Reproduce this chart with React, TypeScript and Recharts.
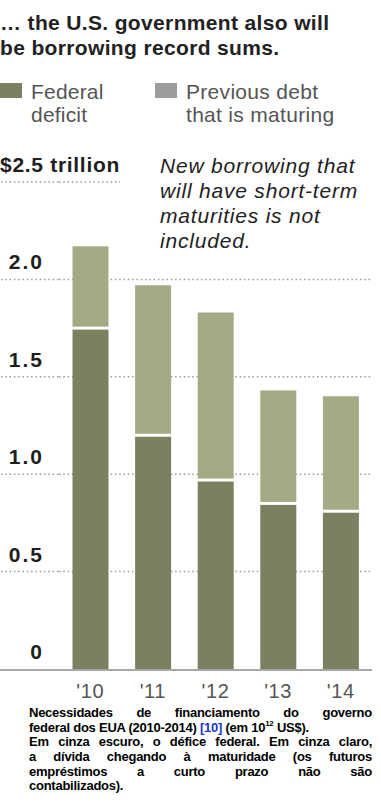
import React from 'react';
import { BarChart, Bar, XAxis, YAxis, CartesianGrid } from 'recharts';

const years = ["'10", "'11", "'12", "'13", "'14"];
const federalDeficit = [1.75, 1.2, 0.97, 0.85, 0.81];
const maturingDebt = [0.42, 0.77, 0.86, 0.58, 0.59];
const yTicks = [0, 0.5, 1, 1.5, 2, 2.5];
const yTickLabels = ['0', '0.5', '1.0', '1.5', '2.0', '$2.5 trillion'];

const data = years.map((year, i) => ({
  year,
  deficit: federalDeficit[i],
  maturing: maturingDebt[i],
}));

const DARK = '#7b8160';
const LIGHT = '#a3ab84';
const GRID = '#9a9a9a';
const FONT = '"Liberation Sans", Arial, Helvetica, sans-serif';
const GAP = 1.5;

const W = 381;
const H = 805;
const PLOT_TOP = 182;
const PLOT_RIGHT = 372;
const Y_AXIS_W = 59;

const YTick = (props: any) => {
  const { y, payload } = props;
  const idx = yTicks.indexOf(payload.value);
  const label = yTickLabels[idx] ?? String(payload.value);
  const isTop = payload.value === 2.5;
  return (
    <g>
      {payload.value === 0 ? (
        <line x1={0} x2={PLOT_RIGHT} y1={y + 1} y2={y + 1} stroke="#8a8a8a" strokeWidth={1.5} />
      ) : (
        <line
          x1={1}
          x2={Y_AXIS_W}
          y1={y}
          y2={y}
          stroke={GRID}
          strokeWidth={1.5}
          strokeDasharray="1.5 2.8"
        />
      )}
      <text
        x={isTop ? 0 : 44}
        y={y - 10}
        textAnchor={isTop ? 'start' : 'end'}
        fontFamily={FONT}
        fontWeight="bold"
        fontSize={21}
        letterSpacing={isTop ? 0.7 : 2}
        fill="#1e1e1e"
      >
        {label}
      </text>
    </g>
  );
};

const XTick = (props: any) => {
  const { x, y, payload } = props;
  return (
    <text x={x} y={y + 29} textAnchor="middle" fontFamily={FONT} fontSize={20} letterSpacing={0.6} fill="#555">
      {payload.value}
    </text>
  );
};

const gridLine = (props: any) => {
  const { x1, x2, y1, y2, key } = props;
  if (y1 > PLOT_TOP + 480) return <g key={key} />;
  const end = y1 < PLOT_TOP + 5 ? 120 : x2;
  return (
    <line
      key={key}
      x1={x1}
      x2={end}
      y1={y1}
      y2={y2}
      stroke={GRID}
      strokeWidth={1.5}
      strokeDasharray="1.5 2.8"
    />
  );
};

const DarkShape = (props: any) => {
  const { x, y, width, height } = props;
  return <rect x={x} y={y + GAP} width={width} height={Math.max(height - GAP, 0)} fill={DARK} />;
};

const LightShape = (props: any) => {
  const { x, y, width, height } = props;
  return <rect x={x} y={y} width={width} height={Math.max(height - GAP, 0)} fill={LIGHT} />;
};

const abs = (style: React.CSSProperties): React.CSSProperties => ({
  position: 'absolute',
  fontFamily: FONT,
  margin: 0,
  whiteSpace: 'nowrap',
  ...style,
});

const captionLine: React.CSSProperties = {
  height: 14.7,
  lineHeight: '14.7px',
  textAlign: 'justify',
  textAlignLast: 'justify',
  whiteSpace: 'normal',
};

export default function App() {
  return (
    <div
      style={{
        position: 'absolute',
        left: 0,
        top: 0,
        width: W,
        height: H,
        background: '#fff',
        overflow: 'hidden',
      }}
    >
      <div style={{ position: 'absolute', left: 0, top: 0 }}>
        <BarChart
          width={W}
          height={H}
          data={data}
          margin={{ top: PLOT_TOP, right: W - PLOT_RIGHT, bottom: 96, left: 0 }}
          barCategoryGap={13.5}
        >
          <CartesianGrid vertical={false} horizontal={gridLine} />
          <YAxis
            width={Y_AXIS_W}
            domain={[0, 2.5]}
            ticks={yTicks}
            interval={0}
            axisLine={false}
            tickLine={false}
            tick={<YTick />}
          />
          <XAxis
            dataKey="year"
            height={40}
            axisLine={false}
            tickLine={false}
            tickSize={0}
            tickMargin={0}
            tick={<XTick />}
          />
          <Bar dataKey="deficit" stackId="a" fill={DARK} shape={<DarkShape />} isAnimationActive={false} />
          <Bar dataKey="maturing" stackId="a" fill={LIGHT} shape={<LightShape />} isAnimationActive={false} />
        </BarChart>
      </div>

      <div
        style={abs({
          left: 0,
          top: 10,
          fontSize: 21,
          fontWeight: 'bold',
          lineHeight: '25px',
          letterSpacing: 0.35,
          color: '#222',
        })}
      >
        <div>… the U.S. government also will</div>
        <div>be borrowing record sums.</div>
      </div>

      <div style={abs({ left: 0, top: 83, width: 22, height: 15, background: DARK })} />
      <div style={abs({ left: 31, top: 80, fontSize: 21, lineHeight: '23px', letterSpacing: 0.2, color: '#555' })}>
        <div>Federal</div>
        <div>deficit</div>
      </div>
      <div style={abs({ left: 155, top: 83, width: 22, height: 15, background: '#9c9c9c' })} />
      <div style={abs({ left: 186, top: 80, fontSize: 21, lineHeight: '23px', letterSpacing: 0.3, color: '#555' })}>
        <div>Previous debt</div>
        <div>that is maturing</div>
      </div>

      <div
        style={abs({
          left: 160,
          top: 153,
          fontSize: 21,
          fontStyle: 'italic',
          lineHeight: '25px',
          letterSpacing: 0.8,
          color: '#222',
        })}
      >
        <div>New borrowing that</div>
        <div>will have short-term</div>
        <div>maturities is not</div>
        <div>included.</div>
      </div>

      <div
        style={abs({
          left: 29,
          top: 706,
          width: 343,
          fontSize: 13,
          fontWeight: 'bold',
          letterSpacing: -0.25,
          color: '#000',
          whiteSpace: 'normal',
        })}
      >
        <div style={captionLine}>Necessidades de financiamento do governo</div>
        <div style={{ ...captionLine, textAlign: 'left', textAlignLast: 'left' }}>
          federal dos EUA (2010-2014) <span style={{ color: '#1a36c8' }}>[10]</span> (em 10
          <sup style={{ fontSize: 8, lineHeight: 0, verticalAlign: 'top', position: 'relative', top: 3 }}>12</sup>{' '}
          US$).
        </div>
        <div style={captionLine}>Em cinza escuro, o défice federal. Em cinza claro,</div>
        <div style={captionLine}>a dívida chegando à maturidade (os futuros</div>
        <div style={captionLine}>empréstimos a curto prazo não são</div>
        <div style={{ ...captionLine, textAlign: 'left', textAlignLast: 'left' }}>contabilizados).</div>
      </div>
    </div>
  );
}
